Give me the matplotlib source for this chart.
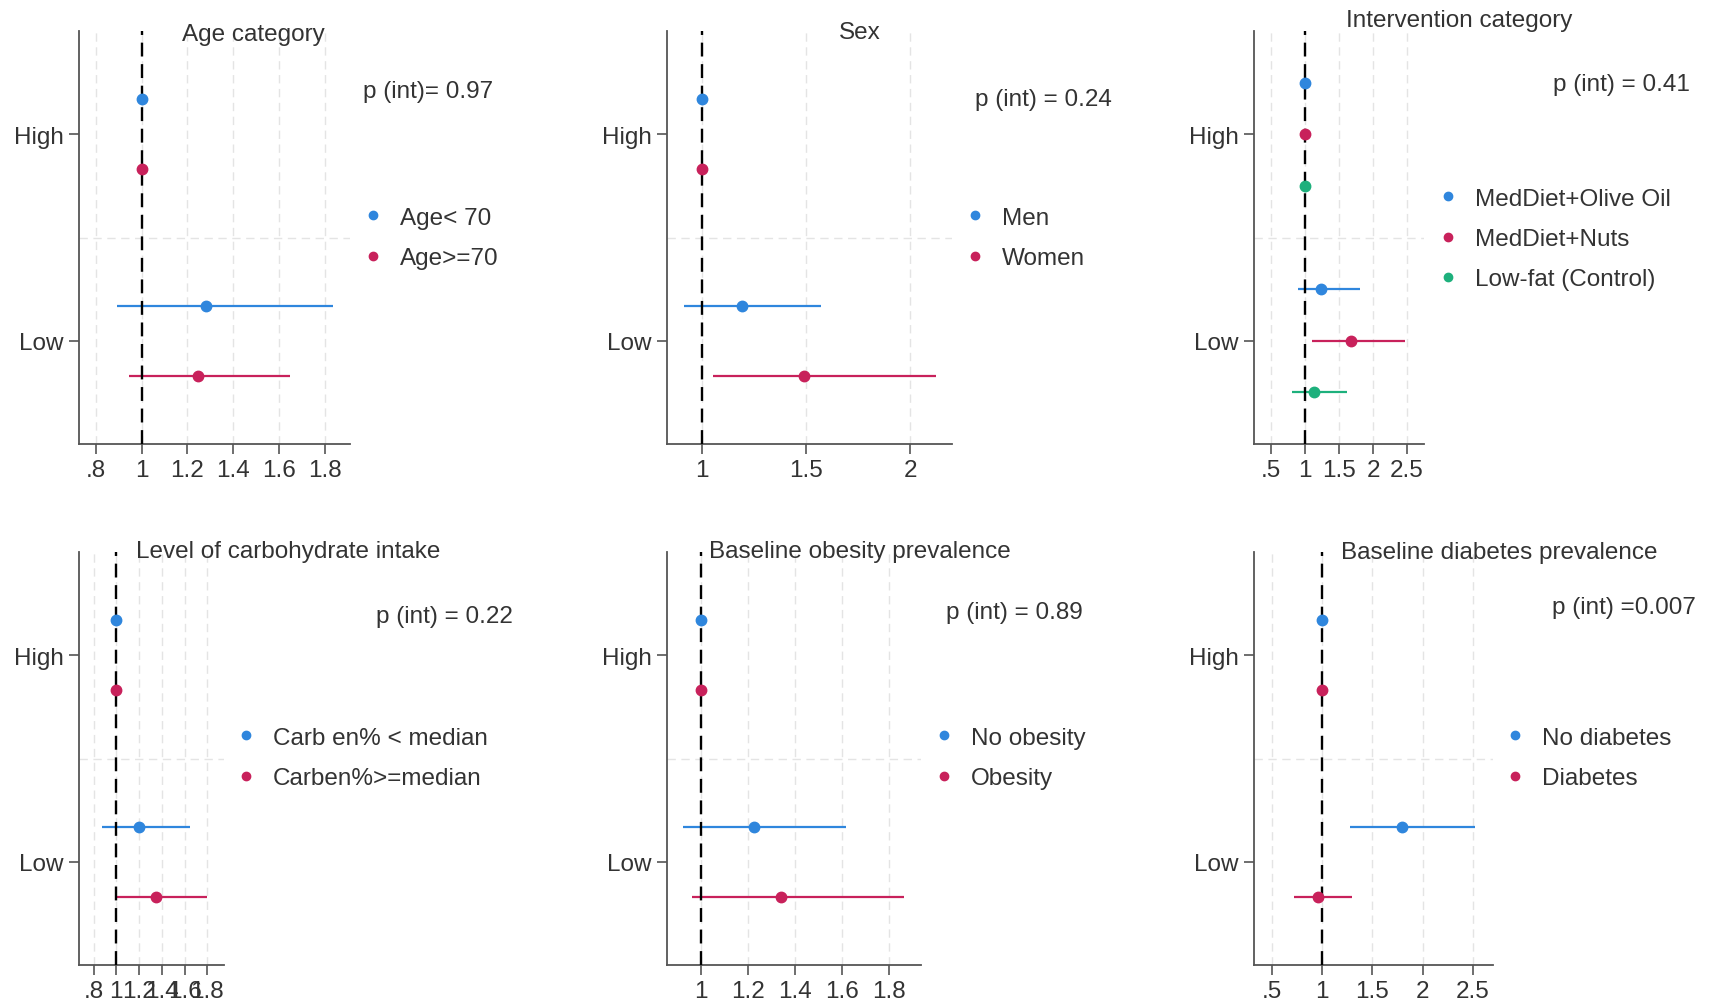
import matplotlib.pyplot as plt
from matplotlib.lines import Line2D

plt.rcParams['font.family'] = ['Liberation Sans', 'DejaVu Sans']
plt.rcParams['lines.scale_dashes'] = False

W, H = 1713, 1004
TXT = '#333333'
AXC = '#555555'
COLORS = ['#2f86dd', '#c8215b', '#1db07c']

# ---- data (hazard ratios; "High" level is the reference = 1) ----
titles = ['Age category', 'Sex', 'Intervention category',
          'Level of carbohydrate intake', 'Baseline obesity prevalence',
          'Baseline diabetes prevalence']
pvals = ['p (int)= 0.97', 'p (int) = 0.24', 'p (int) = 0.41',
         'p (int) = 0.22', 'p (int) = 0.89', 'p (int) =0.007']
groups = [['Age< 70', 'Age>=70'],
          ['Men', 'Women'],
          ['MedDiet+Olive Oil', 'MedDiet+Nuts', 'Low-fat (Control)'],
          ['Carb en% < median', 'Carben%>=median'],
          ['No obesity', 'Obesity'],
          ['No diabetes', 'Diabetes']]
high_hr = [[1.0, 1.0], [1.0, 1.0], [1.0, 1.0, 1.0],
           [1.0, 1.0], [1.0, 1.0], [1.0, 1.0]]
low_hr = [[1.28, 1.245], [1.19, 1.49], [1.24, 1.67, 1.13],
          [1.20, 1.35], [1.227, 1.343], [1.80, 0.965]]
low_lo = [[0.891, 0.946], [0.91, 1.05], [0.89, 1.107, 0.812],
          [0.874, 1.0], [0.926, 0.966], [1.282, 0.725]]
low_hi = [[1.833, 1.647], [1.57, 2.125], [1.804, 2.47, 1.617],
          [1.647, 1.80], [1.618, 1.862], [2.518, 1.30]]
xticks = [[0.8, 1, 1.2, 1.4, 1.6, 1.8], [1, 1.5, 2], [0.5, 1, 1.5, 2, 2.5],
          [0.8, 1, 1.2, 1.4, 1.6, 1.8], [1, 1.2, 1.4, 1.6, 1.8],
          [0.5, 1, 1.5, 2, 2.5]]
xticklabels = [['.8', '1', '1.2', '1.4', '1.6', '1.8'], ['1', '1.5', '2'],
               ['.5', '1', '1.5', '2', '2.5'],
               ['.8', '1', '1.2', '1.4', '1.6', '1.8'],
               ['1', '1.2', '1.4', '1.6', '1.8'],
               ['.5', '1', '1.5', '2', '2.5']]
xlims = [(0.727, 1.909), (0.83, 2.2), (0.25, 2.75),
         (0.672, 1.947), (0.858, 1.934), (0.325, 2.70)]

# ---- layout (pixels of the 1713x1004 canvas) ----
ax_box = [(79, 32, 350, 445), (667, 32, 952, 445), (1254, 32, 1424, 445),
          (79, 553, 224, 966), (667, 553, 921, 966), (1254, 553, 1493, 966)]
title_xy = [(253, 35), (860, 33), (1459, 21), (288, 552), (860, 552), (1499, 553)]
p_xy = [(363, 92), (975, 100), (1553, 85), (376, 617), (946, 613), (1552, 608)]
leg_xy = [(373, 239), (975, 239), (1448, 240), (246, 759), (944, 759), (1515, 759)]

fs = 17.5
fig = plt.figure(figsize=(W / 100, H / 100), dpi=100)

for k in range(6):
    x0, y0, x1, y1 = ax_box[k]
    ax = fig.add_axes([x0 / W, 1 - y1 / H, (x1 - x0) / W, (y1 - y0) / H])
    n = len(groups[k])
    offs = [0.17, -0.17] if n == 2 else [0.25, 0.0, -0.25]

    for xt in xticks[k]:
        ax.axvline(xt, color='#e4e4e4', lw=1, ls=(0, (6, 4)), zorder=0)
    ax.axhline(0.5, color='#e4e4e4', lw=1, ls=(0, (6, 4)), zorder=0)
    ax.axvline(1, color='black', lw=1.7, ls=(0, (10, 5.5)), zorder=3)

    for i in range(n):
        c = COLORS[i]
        ax.hlines(0 + offs[i], low_lo[k][i], low_hi[k][i], color=c, lw=1.6, zorder=2)
        ax.plot(low_hr[k][i], 0 + offs[i], 'o', color=c, ms=7.5, zorder=4)
        ax.plot(high_hr[k][i], 1 + offs[i], 'o', color=c, ms=7.5, zorder=4)

    ax.set_xlim(*xlims[k])
    ax.set_ylim(-0.5, 1.5)
    ax.set_xticks(xticks[k])
    ax.set_xticklabels(xticklabels[k])
    ax.set_yticks([0, 1])
    ax.set_yticklabels(['Low', 'High'])
    for s in ['top', 'right']:
        ax.spines[s].set_visible(False)
    for s in ['left', 'bottom']:
        ax.spines[s].set_color(AXC)
        ax.spines[s].set_linewidth(1.3)
    ax.tick_params(colors=AXC, labelcolor=TXT, labelsize=fs, length=7,
                   width=1.2, pad=4)

    tx, ty = title_xy[k]
    fig.text(tx / W, 1 - ty / H, titles[k], ha='center', va='center',
             fontsize=fs, color=TXT)
    px, py = p_xy[k]
    fig.text(px / W, 1 - py / H, pvals[k], ha='left', va='center',
             fontsize=fs, color=TXT)

    handles = [Line2D([], [], ls='', marker='o', ms=6, color=COLORS[i])
               for i in range(n)]
    lx, ly = leg_xy[k]
    hl = 0.8
    ax.legend(handles, groups[k], loc='center left',
              bbox_to_anchor=((lx - hl * fs * 100 / 72 / 2) / W, 1 - ly / H),
              bbox_transform=fig.transFigure, frameon=False, fontsize=fs,
              handlelength=hl, handletextpad=0.72, labelspacing=0.76,
              borderpad=0, borderaxespad=0, labelcolor=TXT)

fig.savefig('out.png', dpi=100)
